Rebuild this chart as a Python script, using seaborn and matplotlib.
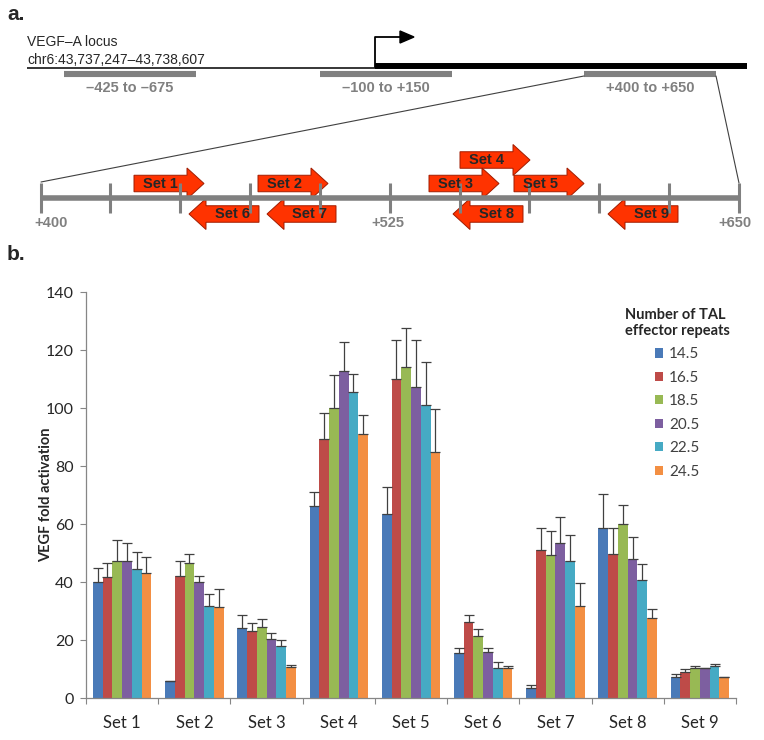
import pandas as pd
import seaborn as sns
import matplotlib.pyplot as plt
from matplotlib.patches import FancyArrow, Polygon

# bar chart data
sets = ['Set 1', 'Set 2', 'Set 3', 'Set 4', 'Set 5', 'Set 6', 'Set 7', 'Set 8', 'Set 9']
repeats = ['14.5', '16.5', '18.5', '20.5', '22.5', '24.5']
colors = ['#4A7AB8', '#BE4B48', '#98B954', '#7D5FA0', '#46AAC4', '#F38F43']

r14_5 = [39.9, 5.9, 24.0, 66.1, 63.3, 15.5, 3.6, 58.7, 7.4]
r16_5 = [41.7, 42.2, 23.2, 89.3, 110.0, 26.2, 50.9, 49.8, 8.8]
r18_5 = [47.1, 46.6, 24.6, 100.1, 114.1, 21.5, 49.3, 59.9, 10.4]
r20_5 = [47.1, 39.9, 20.3, 112.9, 107.4, 15.9, 53.3, 48.0, 10.3]
r22_5 = [44.4, 31.6, 17.8, 105.4, 100.9, 10.3, 47.4, 40.7, 11.1]
r24_5 = [43.2, 31.4, 10.6, 91.0, 84.8, 10.4, 31.6, 27.6, 7.2]

e14_5 = [5.0, 0.0, 4.5, 5.0, 9.6, 1.6, 0.8, 11.5, 0.9]
e16_5 = [4.9, 4.9, 2.8, 9.0, 13.4, 2.3, 7.6, 8.8, 1.3]
e18_5 = [7.5, 3.1, 2.5, 11.2, 13.5, 2.2, 8.3, 6.7, 0.6]
e20_5 = [6.3, 2.3, 2.1, 9.7, 16.0, 1.2, 9.1, 7.4, 0.2]
e22_5 = [5.8, 4.3, 2.2, 6.4, 15.1, 2.1, 8.8, 5.5, 0.7]
e24_5 = [5.4, 6.2, 0.8, 6.5, 15.0, 0.7, 8.2, 3.1, 0.0]

y_ticks = [0, 20, 40, 60, 80, 100, 120, 140]

# schematic (panel a) in pixel units of the top strip
region_labels = ['–425 to –675', '–100 to +150', '+400 to +650']
region_left = [64, 320, 584]
region_right = [196, 452, 716]
scale_ticks = [41, 110, 180, 250, 320, 390, 460, 529, 599, 669, 739]
scale_labels = ['+400', '+525', '+650']
scale_label_x = [51, 388, 735]
arrow_names = ['Set 4', 'Set 1', 'Set 2', 'Set 3', 'Set 5', 'Set 6', 'Set 7', 'Set 8', 'Set 9']
arrow_start = [460, 134, 258, 429, 514, 259, 336, 523, 678]
arrow_end = [530, 204, 328, 499, 584, 189, 267, 453, 608]
arrow_row = [160, 183.5, 183.5, 183.5, 183.5, 214, 214, 214, 214]

sns.set_style('white')
plt.rcParams['font.family'] = ['Lato', 'DejaVu Sans']

fig = plt.figure(figsize=(7.64, 7.40), dpi=100)
W, H = 764, 740

# ---------- panel a ----------
ax_top = fig.add_axes([0, 1 - 240 / H, 1, 240 / H])
ax_top.set_xlim(0, W)
ax_top.set_ylim(240, 0)
ax_top.axis('off')
arial = ['Liberation Sans', 'DejaVu Sans']

ax_top.text(7, 15, 'a.', fontsize=15, fontweight='bold', va='center', family=arial)
ax_top.text(27, 42, 'VEGF–A locus', fontsize=10, va='center', family=arial)
ax_top.text(27, 60, 'chr6:43,737,247–43,738,607', fontsize=10, va='center', family=arial)

ax_top.plot([27, 375], [68, 68], color='black', lw=1.1, solid_capstyle='butt')
ax_top.plot([375, 747], [66.3, 66.3], color='black', lw=4.3, solid_capstyle='butt')
ax_top.plot([375, 375, 402], [67, 37, 37], color='black', lw=1.3)
ax_top.add_patch(Polygon([[400, 31], [414, 37], [400, 43]], closed=True, color='black'))

for lab, l, r in zip(region_labels, region_left, region_right):
    ax_top.plot([l, r], [74, 74], color='#808080', lw=4.4, solid_capstyle='butt')
    ax_top.text((l + r) / 2, 88, lab, fontsize=10.5, fontweight='bold', color='#808080',
                ha='center', va='center', family=arial)

ax_top.plot([584, 41], [76, 182], color='#404040', lw=0.8)
ax_top.plot([716, 739], [76, 183], color='#404040', lw=0.8)

ax_top.plot([40, 740], [198, 198], color='#808080', lw=4.0, solid_capstyle='butt', zorder=5)
for t in scale_ticks:
    ax_top.plot([t, t], [183, 213], color='#808080', lw=2.2, solid_capstyle='butt', zorder=5)
for lab, x in zip(scale_labels, scale_label_x):
    ax_top.text(x, 223, lab, fontsize=10.5, fontweight='bold', color='#808080',
                ha='center', va='center', family=arial)

for i, (name, s, e, yrow) in enumerate(zip(arrow_names, arrow_start, arrow_end, arrow_row)):
    arr = FancyArrow(s, yrow, e - s, 0, width=16.5, head_width=31, head_length=17,
                     length_includes_head=True, facecolor='#FF3300', edgecolor='#A01C00',
                     lw=0.7, zorder=3 + i * 0.01)
    ax_top.add_patch(arr)
    body_mid = (s + (e - 17 if e > s else e + 17)) / 2
    ax_top.text(body_mid, yrow, name, fontsize=10.5, fontweight='bold', ha='center',
                va='center', family=arial, zorder=6)

fig.text(7 / W, 1 - 255 / H, 'b.', fontsize=15, fontweight='bold', va='center', family=arial)

# ---------- panel b ----------
means = [r14_5, r16_5, r18_5, r20_5, r22_5, r24_5]
errs = [e14_5, e16_5, e18_5, e20_5, e22_5, e24_5]
rows = []
for rep, vals in zip(repeats, means):
    for s, v in zip(sets, vals):
        rows.append({'set': s, 'repeats': rep, 'value': v})
df = pd.DataFrame(rows)

ax = fig.add_axes([86 / W, 1 - 698 / H, 650 / W, 406 / H])
sns.barplot(data=df, x='set', y='value', hue='repeats', palette=colors, width=0.81,
            errorbar=None, saturation=1, linewidth=0, ax=ax)

for cont, err in zip(ax.containers, errs):
    xs = [b.get_x() + b.get_width() / 2 for b in cont]
    ys = [b.get_height() for b in cont]
    ax.errorbar(xs, ys, yerr=[[0] * len(err), err], fmt='none', ecolor='#404040',
                elinewidth=0.9, capsize=3.4, capthick=0.9, zorder=4)

ax.set_xlim(-0.5, 8.5)
ax.set_ylim(0, 140)
ax.set_yticks(y_ticks)
ax.set_xlabel('')
ax.set_ylabel('VEGF fold activation', fontsize=10.5, fontweight='bold')
ax.yaxis.set_label_coords((53 - 86) / 650, 0.5)
sns.despine(ax=ax)
for sp in ['left', 'bottom']:
    ax.spines[sp].set_color('#868686')
    ax.spines[sp].set_linewidth(0.9)
ax.set_xticks([i + 0.5 for i in range(-1, 9)], minor=True)
ax.tick_params(axis='x', which='major', length=0, labelsize=12, pad=12, colors='#262626')
ax.tick_params(axis='x', which='minor', length=4, width=0.8, color='#868686', direction='out')
ax.tick_params(axis='y', length=4, width=0.8, color='#868686', direction='out',
               labelsize=11.5, pad=5, labelcolor='#262626')
ax.tick_params(axis='both', bottom=True, left=True, which='both')
ax.tick_params(axis='x', which='major', bottom=False)

handles, labels = ax.get_legend_handles_labels()
leg = ax.legend(handles, labels, title='Number of TAL\neffector repeats', frameon=False,
                loc='upper left', bbox_to_anchor=(617 / W, 1 - 300 / H),
                bbox_transform=fig.transFigure, borderpad=0, fontsize=11,
                title_fontsize=10.5, handlelength=0.55, handleheight=0.55,
                handletextpad=0.35, labelspacing=0.62)
leg.get_title().set_fontweight('bold')
leg.get_title().set_multialignment('left')
for t in leg.get_texts():
    t.set_color('#404040')

fig.savefig('out.png', dpi=100)
